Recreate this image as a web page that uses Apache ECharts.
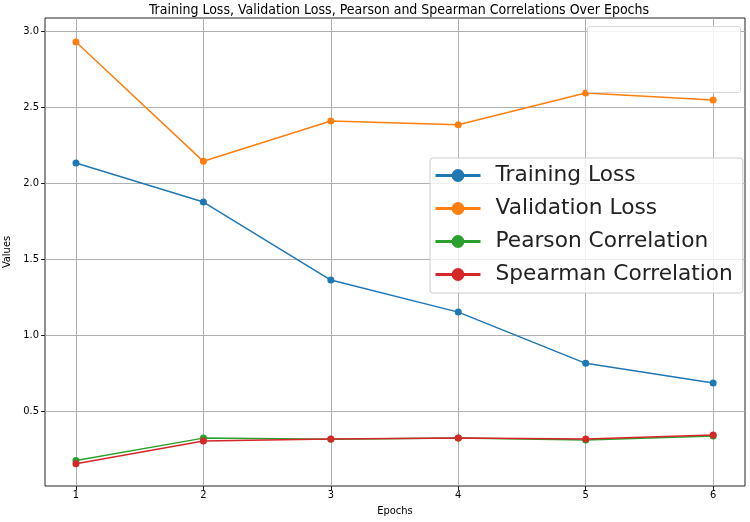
<!DOCTYPE html>
<html><head><meta charset="utf-8">
<script src="https://cdn.jsdelivr.net/npm/echarts@6/dist/echarts.min.js"></script>
<style>html,body{margin:0;padding:0;background:#fff}#c{width:750px;height:522px}</style>
</head><body><div id="c"></div>
<script>
const epochs = [1, 2, 3, 4, 5, 6];
const trainingLoss = [2.132, 1.875, 1.362, 1.151, 0.814, 0.684];
const validationLoss = [2.928, 2.143, 2.408, 2.384, 2.592, 2.546];
const pearson = [0.175, 0.322, 0.314, 0.322, 0.309, 0.336];
const spearman = [0.153, 0.303, 0.316, 0.322, 0.316, 0.342];
const yTicks = [0.5, 1.0, 1.5, 2.0, 2.5, 3.0];
const seriesNames = ['Training Loss', 'Validation Loss', 'Pearson Correlation', 'Spearman Correlation'];
const colors = ['#1f77b4', '#ff7f0e', '#2ca02c', '#d62728'];

const font = '"DejaVu Sans Condensed", "DejaVu Sans"';
const lfont = 'DejaVu Sans';
const chart = echarts.init(document.getElementById('c'));
const allData = [trainingLoss, validationLoss, pearson, spearman];
chart.setOption({
  animation: false,
  color: colors,
  title: {
    text: 'Training Loss, Validation Loss, Pearson and Spearman Correlations Over Epochs',
    left: 394, top: -2, textAlign: 'center',
    textStyle: {fontFamily: font, fontSize: 14, fontWeight: 'normal', color: '#000'}
  },
  grid: {left: 45, right: 5, top: 18, bottom: 36, show: true, borderColor: '#222', borderWidth: 1, backgroundColor: 'transparent', outerBoundsMode: 'none', containLabel: false},
  xAxis: {
    type: 'value', min: 0.757, max: 6.25,
    name: 'Epochs', nameLocation: 'middle', nameGap: 20,
    nameTextStyle: {fontFamily: font, fontSize: 11, color: '#000'},
    axisLine: {show: false},
    axisTick: {show: true, length: 4, lineStyle: {color: '#222'}, customValues: epochs},
    axisLabel: {fontFamily: font, fontSize: 11, color: '#000', margin: 4, customValues: epochs, formatter: v => String(v)},
    splitLine: {show: true, lineStyle: {color: '#b0b0b0', width: 1}}
  },
  yAxis: {
    type: 'value', min: 0.007, max: 3.086,
    name: 'Values', nameLocation: 'middle', nameGap: 30, nameRotate: 90,
    nameTextStyle: {fontFamily: font, fontSize: 11, color: '#000'},
    axisLine: {show: false},
    axisTick: {show: true, length: 4, lineStyle: {color: '#222'}, customValues: yTicks},
    axisLabel: {fontFamily: font, fontSize: 11, color: '#000', margin: 6, customValues: yTicks, formatter: v => v.toFixed(1)},
    splitLine: {show: true, lineStyle: {color: '#b0b0b0', width: 1}}
  },
  legend: {
    data: seriesNames,
    orient: 'vertical', left: 430, top: 158,
    backgroundColor: 'rgba(255,255,255,0.8)', borderColor: '#cccccc', borderWidth: 1, borderRadius: 3,
    padding: [6, 10, 7, 4],
    itemWidth: 45, itemHeight: 16, itemGap: 10,
    textStyle: {fontFamily: lfont, fontSize: 21.7, color: '#222', lineHeight: 23, padding: [0, 0, 0, 10]},
    lineStyle: {width: 3},
    z: 10
  },
  graphic: [{
    type: 'rect', left: 587, top: 26, shape: {width: 153, height: 66, r: 2},
    style: {fill: 'rgba(255,255,255,0.85)', stroke: '#d8d8d8', lineWidth: 1}, z: 100
  }],
  series: seriesNames.map((name, i) => ({
    name, type: 'line',
    data: epochs.map((e, j) => [e, allData[i][j]]),
    symbol: 'circle', symbolSize: 7, showSymbol: true,
    lineStyle: {width: 1.5},
    itemStyle: {color: colors[i]},
    z: 2 + i
  }))
});
</script></body></html>
